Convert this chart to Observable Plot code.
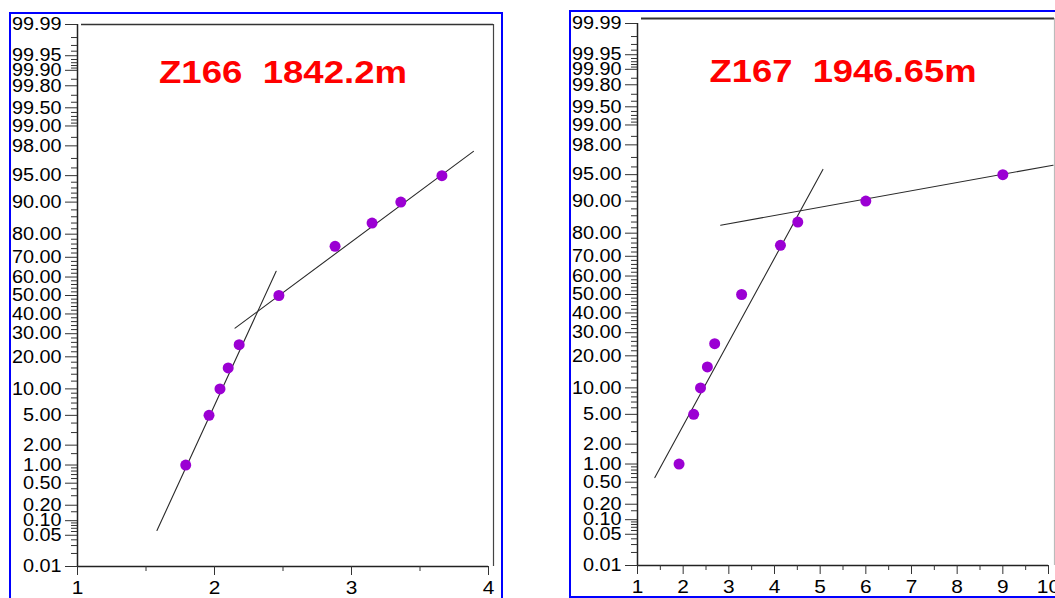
<!DOCTYPE html>
<html><head><meta charset="utf-8">
<script src="https://cdn.jsdelivr.net/npm/d3@7"></script>
<script src="https://cdn.jsdelivr.net/npm/@observablehq/plot@0.6"></script>
<style>
html,body{margin:0;padding:0;background:#fff;}
body{width:1055px;height:598px;overflow:hidden;position:relative;font-family:"Liberation Sans",Arial,sans-serif;}
.panel{position:absolute;border:2px solid #0000ff;box-sizing:content-box;overflow:hidden;background:#fff;}
#p1{left:9px;top:12px;width:490px;height:600px;}
#p2{left:569px;top:10px;width:490px;height:584px;}
.panel svg{display:block;}
svg text{white-space:pre;}
g.ylab, g.ylab text{font-size:18px !important;}
g.xlab, g.xlab text{font-size:19px !important;}
</style></head><body>
<div class="panel" id="p1"></div><div class="panel" id="p2"></div>
<script>
// ---- data ----
const cumPct = [1, 5, 10, 16, 25, 50, 75, 84, 90, 95];
const z166Phi = [1.79, 1.96, 2.04, 2.10, 2.18, 2.47, 2.88, 3.15, 3.36, 3.66];
const z167Phi = [1.91, 2.23, 2.38, 2.53, 2.69, 3.28, 4.13, 4.51, 6.0, 9.0];

const z166LineAPhi = [1.58, 2.45];
const z166LineAPct = [0.063, 63.0];
const z166LineBPhi = [2.15, 3.89];
const z166LineBPct = [32.7, 97.6];
const z167LineAPhi = [1.38, 5.06];
const z167LineAPct = [0.6, 95.7];
const z167LineBPhi = [2.82, 10.1];
const z167LineBPct = [82.9, 96.2];

const yTickPct = [0.01, 0.05, 0.1, 0.2, 0.5, 1, 2, 5, 10, 20, 30, 40, 50, 60, 70, 80, 90, 95, 98, 99, 99.5, 99.8, 99.9, 99.95, 99.99];
const yMinorPct = [0.02, 0.03, 0.04, 0.06, 0.07, 0.08, 0.09, 0.15, 0.3, 0.4, 0.6, 0.7, 0.8, 0.9, 1.5, 3, 4, 6, 7, 8, 9,
  12, 14, 16, 18, 22, 24, 26, 28, 32, 34, 36, 38, 42, 44, 46, 48, 52, 54, 56, 58, 62, 64, 66, 68, 72, 74, 76, 78,
  82, 84, 86, 88, 91, 92, 93, 94, 96, 97, 98.5, 99.1, 99.2, 99.3, 99.4, 99.6, 99.7, 99.85,
  99.91, 99.92, 99.93, 99.94, 99.96, 99.97, 99.98];

const x166Ticks = [1, 2, 3, 4];
const x166Minor = [1.5, 2.5, 3.5];
const x167Ticks = [1, 2, 3, 4, 5, 6, 7, 8, 9, 10];
const x167Minor = [1.5, 2.5, 3.5, 4.5, 5.5, 6.5, 7.5, 8.5, 9.5];

const title166 = "Z166  1842.2m";
const title167 = "Z167  1946.65m";

// ---- normal probability (probit) transform for the y scale ----
function probit(p) {
  const a=[-3.969683028665376e+01,2.209460984245205e+02,-2.759285104469687e+02,1.383577518672690e+02,-3.066479806614716e+01,2.506628277459239e+00];
  const b=[-5.447609879822406e+01,1.615858368580409e+02,-1.556989798598866e+02,6.680131188771972e+01,-1.328068155288572e+01];
  const c=[-7.784894002430293e-03,-3.223964580411365e-01,-2.400758277161838e+00,-2.549671083519380e+00,4.374664141464968e+00,2.938163982698783e+00];
  const d=[7.784695709041462e-03,3.224671290700398e-01,2.445134137142996e+00,3.754408661907416e+00];
  const pl = 0.02425, ph = 1 - pl;
  if (p < pl) { const q = Math.sqrt(-2*Math.log(p)); return (((((c[0]*q+c[1])*q+c[2])*q+c[3])*q+c[4])*q+c[5])/((((d[0]*q+d[1])*q+d[2])*q+d[3])*q+1); }
  if (p <= ph) { const q = p - 0.5, r = q*q; return (((((a[0]*r+a[1])*r+a[2])*r+a[3])*r+a[4])*r+a[5])*q/(((((b[0]*r+b[1])*r+b[2])*r+b[3])*r+b[4])*r+1); }
  const q = Math.sqrt(-2*Math.log(1-p)); return -(((((c[0]*q+c[1])*q+c[2])*q+c[3])*q+c[4])*q+c[5])/((((d[0]*q+d[1])*q+d[2])*q+d[3])*q+1);
}
const zp = (pct) => probit(pct / 100);

function panel(cfg) {
  const zLo = zp(yTickPct[0]), zHi = zp(yTickPct[yTickPct.length - 1]);
  const majorZ = yTickPct.map(zp);
  const labelMap = new Map(majorZ.map((z, i) => [z, yTickPct[i].toFixed(2)]));
  const minorZ = yMinorPct.map(zp);
  const pts = cfg.phi.map((x, i) => ({x, z: zp(cumPct[i])}));
  const lines = [
    ...cfg.lineA.phi.map((x, i) => ({s: "A", x, z: zp(cfg.lineA.pct[i])})),
    ...cfg.lineB.phi.map((x, i) => ({s: "B", x, z: zp(cfg.lineB.pct[i])}))
  ];
  const xMin = cfg.xTicks[0], xMax = cfg.xTicks[cfg.xTicks.length - 1];
  return Plot.plot({
    width: 490, height: cfg.height,
    marginTop: cfg.marginTop, marginBottom: cfg.height - cfg.marginTop - 542,
    marginLeft: 66, marginRight: 13,
    x: {domain: [xMin, xMax], axis: null},
    y: {domain: [zLo, zHi], axis: null},
    style: {fontFamily: '"Liberation Sans", Arial, sans-serif', fontSize: "18px", color: "#111", background: "transparent", overflow: "visible"},
    marks: [
      // frame (top + right)
      Plot.ruleY([zHi], {stroke: "#333", strokeWidth: cfg.topWidth, dy: cfg.topDy, insetLeft: 4, insetRight: -cfg.rightPad}),
      Plot.ruleX([xMax], {stroke: cfg.rightColor, strokeWidth: 1.2, dx: cfg.rightPad, insetTop: cfg.topDy}),
      // axis lines
      Plot.ruleX([xMin], {stroke: "#222", strokeWidth: 1.5}),
      Plot.ruleY([zLo], {stroke: "#222", strokeWidth: 1.5}),
      Plot.axisY(minorZ, {anchor: "left", tickSize: 6, tickFormat: () => "", label: null, stroke: "#333"}),
      Plot.axisY(majorZ, {anchor: "left", tickSize: 12, tickPadding: 4, tickFormat: z => labelMap.get(z), label: null,
        stroke: "#333", fill: "#000", className: "ylab"}),
      Plot.axisX(cfg.xMinor, {anchor: "bottom", tickSize: 5, tickFormat: () => "", label: null, stroke: "#333"}),
      Plot.axisX(cfg.xTicks, {anchor: "bottom", tickSize: 9, tickPadding: 5, tickFormat: d => String(d), label: null,
        stroke: "#333", fill: "#000", className: "xlab"}),
      // fitted segments
      Plot.line(lines, {x: "x", y: "z", z: "s", stroke: "#2a2a2a", strokeWidth: 1.1}),
      // cumulative points
      Plot.dot(pts, {x: "x", y: "z", r: 5.5, fill: "#9b00d3", stroke: null}),
      // title
      Plot.text([cfg.title], {frameAnchor: "top", dy: 58, lineAnchor: "bottom", textAnchor: "middle",
        fill: "#ff0000", fontSize: 31, fontWeight: "bold", className: "ttl"})
    ]
  });
}

function stretch(svg, cfg) {
  svg.querySelectorAll(".ttl text").forEach(t => {
    t.setAttribute("textLength", cfg.titleLen);
    t.setAttribute("lengthAdjust", "spacingAndGlyphs");
  });
  svg.querySelectorAll(".ylab text, .xlab text").forEach(t => {
    const w = t.getComputedTextLength();
    if (w > 0) {
      t.setAttribute("textLength", (w * 1.1).toFixed(1));
      t.setAttribute("lengthAdjust", "spacingAndGlyphs");
    }
  });
}

const cfg1 = {
  height: 584, marginTop: 10, phi: z166Phi,
  lineA: {phi: z166LineAPhi, pct: z166LineAPct}, lineB: {phi: z166LineBPhi, pct: z166LineBPct},
  xTicks: x166Ticks, xMinor: x166Minor, title: title166, titleLen: 248,
  topDy: 0, topWidth: 1.5, rightPad: 5, rightColor: "#444"
};
const cfg2 = {
  height: 584, marginTop: 11, phi: z167Phi,
  lineA: {phi: z167LineAPhi, pct: z167LineAPct}, lineB: {phi: z167LineBPhi, pct: z167LineBPct},
  xTicks: x167Ticks, xMinor: x167Minor, title: title167, titleLen: 267,
  topDy: -5, topWidth: 2, rightPad: 6, rightColor: "#bbb"
};
const s1 = panel(cfg1), s2 = panel(cfg2);
document.getElementById("p1").appendChild(s1);
document.getElementById("p2").appendChild(s2);
stretch(s1, cfg1);
stretch(s2, cfg2);
</script></body></html>
